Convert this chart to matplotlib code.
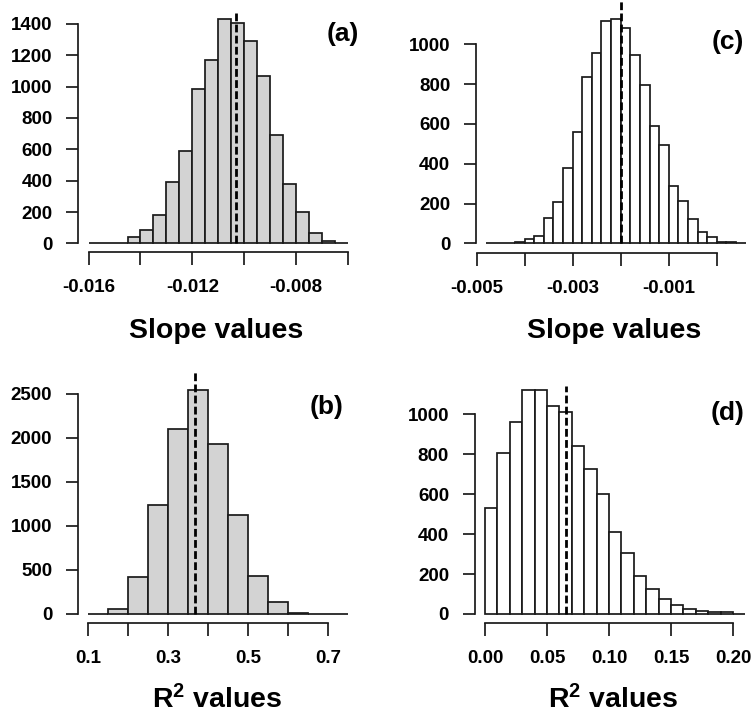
import numpy as np
import matplotlib
matplotlib.use("Agg")
import matplotlib.pyplot as plt

plt.rcParams['font.family'] = ['Liberation Sans', 'DejaVu Sans']
plt.rcParams['font.weight'] = 'bold'
plt.rcParams['mathtext.fontset'] = 'custom'
plt.rcParams['mathtext.rm'] = 'Liberation Sans:bold'
plt.rcParams['mathtext.bf'] = 'Liberation Sans:bold'
plt.rcParams['mathtext.it'] = 'Liberation Sans:bold'

# ---- histogram data -------------------------------------------------------
# (a) slope values, gray bars
slope_a_start, slope_a_width = -0.016, 0.0005
slope_a_counts = [0, 1, 5, 38, 85, 181, 394, 591, 983, 1170,
                  1432, 1404, 1294, 1068, 694, 377, 200, 68, 12, 3]
slope_a_mean = -0.01033

# (b) R^2 values, gray bars
r2_b_start, r2_b_width = 0.10, 0.05
r2_b_counts = [0, 53, 417, 1235, 2098, 2545, 1932, 1121, 432, 136, 15, 1, 0]
r2_b_mean = 0.3667

# (c) slope values, white bars
slope_c_start, slope_c_width = -0.0048, 0.0002
slope_c_counts = [0, 0, 0, 6, 23, 39, 127, 208, 377, 559, 834, 958, 1119,
                  1127, 1084, 945, 796, 591, 494, 288, 214, 121, 55, 32,
                  6, 6, 0]
slope_c_mean = -0.00199

# (d) R^2 values, white bars
r2_d_start, r2_d_width = 0.00, 0.01
r2_d_counts = [531, 808, 963, 1122, 1122, 1043, 1013, 843, 726, 603, 411,
               307, 190, 125, 73, 45, 23, 15, 8, 8, 0]
r2_d_mean = 0.0651

# tick positions and the subset of ticks that carry a label
xticks_a = [-0.016, -0.014, -0.012, -0.010, -0.008, -0.006]
xlabels_a = ['-0.016', '', '-0.012', '', '-0.008', '']
yticks_a = [0, 200, 400, 600, 800, 1000, 1200, 1400]

xticks_b = [0.1, 0.2, 0.3, 0.4, 0.5, 0.6, 0.7]
xlabels_b = ['0.1', '', '0.3', '', '0.5', '', '0.7']
yticks_b = [0, 500, 1000, 1500, 2000, 2500]

xticks_c = [-0.005, -0.004, -0.003, -0.002, -0.001, 0.000]
xlabels_c = ['-0.005', '', '-0.003', '', '-0.001', '']
yticks_c = [0, 200, 400, 600, 800, 1000]

xticks_d = [0.00, 0.05, 0.10, 0.15, 0.20]
xlabels_d = ['0.00', '0.05', '0.10', '0.15', '0.20']
yticks_d = [0, 200, 400, 600, 800, 1000]

# ---- figure ----------------------------------------------------------------
W, H = 752, 717
fig = plt.figure(figsize=(W / 100, H / 100), dpi=100)
EDGE = '#1a1a1a'


def add_axes_px(left, right, top, bottom):
    return fig.add_axes([left / W, 1 - bottom / H, (right - left) / W,
                         (bottom - top) / H])


def panel(box, start, width, counts, mean, fill, xlim, ylim,
          xticks, xlabels, yticks, tag, tag_xy, xlabel, xlabel_xy):
    ax = add_axes_px(*box)
    n = len(counts)
    edges = start + width * np.arange(n)
    ax.bar(edges, counts, width=width, align='edge', color=fill,
           edgecolor=EDGE, linewidth=1.25, zorder=2)
    ax.plot([mean, mean], [0, ylim[1]], color='black', lw=2.0,
            linestyle=(0, (2.8, 1.2)), zorder=3, solid_capstyle='butt')
    ax.set_xlim(*xlim)
    ax.set_ylim(*ylim)
    ax.set_xticks(xticks)
    ax.set_xticklabels(xlabels)
    ax.set_yticks(yticks)
    ax.set_yticklabels([str(v) for v in yticks])
    for s in ('top', 'right'):
        ax.spines[s].set_visible(False)
    ax.spines['left'].set_bounds(yticks[0], yticks[-1])
    ax.spines['bottom'].set_bounds(xticks[0], xticks[-1])
    for s in ('left', 'bottom'):
        ax.spines[s].set_linewidth(1.25)
        ax.spines[s].set_color(EDGE)
    ax.tick_params(axis='y', length=8.4, width=1.25, color=EDGE, pad=10.0,
                   labelsize=13.5)
    ax.tick_params(axis='x', length=9.0, width=1.25, color=EDGE, pad=10.0,
                   labelsize=13.5)
    ax.patch.set_alpha(0)
    fig.text(tag_xy[0] / W, 1 - tag_xy[1] / H, tag, ha='center',
             va='center', fontsize=19, fontweight='bold')
    fig.text(xlabel_xy[0] / W, 1 - xlabel_xy[1] / H, xlabel, ha='center',
             va='baseline', fontsize=20.5, fontweight='bold')
    return ax


panel((78.3, 358.0, 9.5, 252.3), slope_a_start, slope_a_width,
      slope_a_counts, slope_a_mean, '#d3d3d3', (-0.0164, -0.0056),
      (-57, 1492), xticks_a, xlabels_a, yticks_a, '(a)', (343, 34),
      'Slope values', (215.8, 337.7))

panel((77.9, 358.7, 372, 623.3), r2_b_start, r2_b_width, r2_b_counts,
      r2_b_mean, '#d3d3d3', (0.074, 0.776), (-106, 2750),
      xticks_b, xlabels_b, yticks_b, '(b)', (326.7, 406.7),
      r'$\mathbf{R^2}$ values', (216.7, 708.3))

panel((475.9, 755.9, 0, 253.3), slope_c_start, slope_c_width,
      slope_c_counts, slope_c_mean, 'white', (-0.005016, 0.000816),
      (-50, 1223), xticks_c, xlabels_c, yticks_c, '(c)', (727.5, 42),
      'Slope values', (614, 337.7))

panel((474.6, 755.8, 386, 623.3), r2_d_start, r2_d_width, r2_d_counts,
      r2_d_mean, 'white', (-0.0084, 0.2184), (-46.6, 1142),
      xticks_d, xlabels_d, yticks_d, '(d)', (728, 413),
      r'$\mathbf{R^2}$ values', (613, 708.3))

fig.savefig('out.png', dpi=100)
